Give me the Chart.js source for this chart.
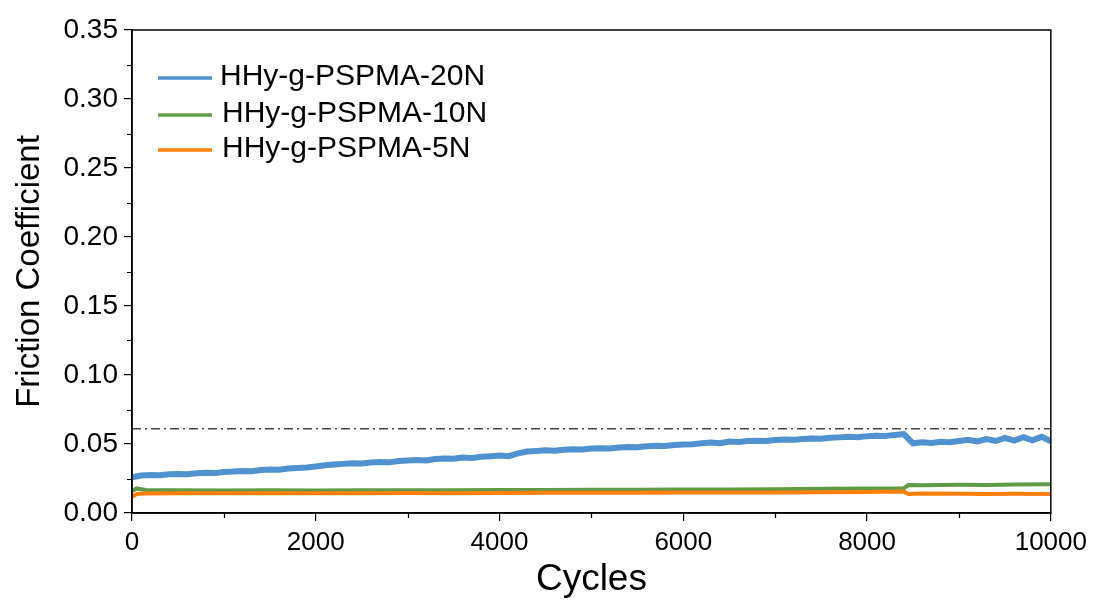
<!DOCTYPE html>
<html>
<head>
<meta charset="utf-8">
<script src="https://cdn.jsdelivr.net/npm/chart.js@4"></script>
<style>
  html, body { margin: 0; padding: 0; background: #fff; }
  #wrap { width: 1093px; height: 606px; }
</style>
</head>
<body>
<div id="wrap"><canvas id="chart" width="1093" height="606"></canvas></div>
<script>
// cycles for the 20N run (every 100 cycles)
const cycles20 = [];
for (let c = 0; c <= 10000; c += 100) cycles20.push(c);

const mu20N = [
  0.0258, 0.0272, 0.0276, 0.0274, 0.0280, 0.0283, 0.0281, 0.0288, 0.0291, 0.0289,
  0.0297, 0.0300, 0.0305, 0.0302, 0.0311, 0.0316, 0.0313, 0.0322, 0.0326, 0.0330,
  0.0337, 0.0346, 0.0352, 0.0356, 0.0361, 0.0358, 0.0366, 0.0370, 0.0367, 0.0376,
  0.0380, 0.0384, 0.0381, 0.0391, 0.0395, 0.0393, 0.0402, 0.0399, 0.0407, 0.0411,
  0.0416, 0.0412, 0.0432, 0.0446, 0.0450, 0.0454, 0.0452, 0.0459, 0.0462, 0.0460,
  0.0467, 0.0470, 0.0468, 0.0475, 0.0478, 0.0476, 0.0484, 0.0487, 0.0485, 0.0492,
  0.0496, 0.0499, 0.0505, 0.0510, 0.0506, 0.0518, 0.0514, 0.0521, 0.0524, 0.0522,
  0.0529, 0.0532, 0.0530, 0.0537, 0.0540, 0.0538, 0.0545, 0.0548, 0.0552, 0.0549,
  0.0557, 0.0560, 0.0558, 0.0566, 0.0572, 0.0505, 0.0512, 0.0508, 0.0517, 0.0513,
  0.0522, 0.0530, 0.0518, 0.0536, 0.0522, 0.0545, 0.0525, 0.0550, 0.0527, 0.0552,
  0.0520
];

// 10N and 5N runs are nearly flat, fewer points
const cyclesLow = [0, 50, 150, 500, 1000, 1500, 2000, 2500, 3000, 3500, 4000, 4500, 5000,
  5500, 6000, 6500, 7000, 7500, 8000, 8400, 8450, 8600, 9000, 9300, 9600, 10000];
const mu10N = [0.0160, 0.0178, 0.0166, 0.0164, 0.0163, 0.0164, 0.0163, 0.0164, 0.0165, 0.0164,
  0.0166, 0.0167, 0.0168, 0.0169, 0.0170, 0.0171, 0.0173, 0.0175, 0.0177, 0.0180,
  0.0203, 0.0201, 0.0204, 0.0203, 0.0206, 0.0209];
const mu5N = [0.0118, 0.0138, 0.0142, 0.0143, 0.0143, 0.0144, 0.0143, 0.0144, 0.0145, 0.0144,
  0.0145, 0.0146, 0.0146, 0.0147, 0.0148, 0.0148, 0.0149, 0.0151, 0.0152, 0.0155,
  0.0138, 0.0141, 0.0139, 0.0137, 0.0139, 0.0138];

const refLevel = 0.061;
const xMax = 10000;
const yMax = 0.35;

const seriesLabels = ['HHy-g-PSPMA-20N', 'HHy-g-PSPMA-10N', 'HHy-g-PSPMA-5N'];
const seriesColors = ['#4f92cf', '#619a45', '#ff7f0c'];

function pts(xs, ys) {
  return xs.map((x, i) => ({ x: x, y: ys[i] }));
}

const FONT = '"Liberation Sans", Arial, sans-serif';

// frame, minor ticks and the in-plot legend
const framePlugin = {
  id: 'frame',
  afterDraw(chart) {
    const ctx = chart.ctx;
    const a = chart.chartArea;
    const xs = chart.scales.x, ys = chart.scales.y;
    ctx.save();
    ctx.strokeStyle = '#000';
    ctx.lineWidth = 1.5;
    ctx.strokeRect(a.left, a.top, a.right - a.left, a.bottom - a.top);
    ctx.lineWidth = 1.2;
    ctx.beginPath();
    for (let v = 1000; v < xMax; v += 2000) {
      const px = Math.round(xs.getPixelForValue(v)) + 0.5;
      ctx.moveTo(px, a.bottom);
      ctx.lineTo(px, a.bottom + 5);
    }
    for (let v = 0.025; v < yMax; v += 0.05) {
      const py = Math.round(ys.getPixelForValue(v)) + 0.5;
      ctx.moveTo(a.left, py);
      ctx.lineTo(a.left - 5, py);
    }
    ctx.stroke();

    // legend
    ctx.font = '30px ' + FONT;
    ctx.textBaseline = 'middle';
    const rows = [77, 114, 149];
    seriesLabels.forEach((lab, i) => {
      ctx.strokeStyle = seriesColors[i];
      ctx.lineWidth = 3.5;
      ctx.beginPath();
      ctx.moveTo(158, rows[i] + 1);
      ctx.lineTo(212, rows[i] + 1);
      ctx.stroke();
      ctx.fillStyle = '#000';
      ctx.fillText(lab, i === 0 ? 220 : 222, rows[i]);
    });
    ctx.restore();
  }
};

new Chart(document.getElementById('chart'), {
  type: 'line',
  data: {
    datasets: [
      {
        label: seriesLabels[0],
        data: pts(cycles20, mu20N),
        borderColor: seriesColors[0],
        borderWidth: 6,
        pointRadius: 0,
        tension: 0,
        order: 0
      },
      {
        label: seriesLabels[1],
        data: pts(cyclesLow, mu10N),
        borderColor: seriesColors[1],
        borderWidth: 4,
        pointRadius: 0,
        tension: 0,
        order: 2
      },
      {
        label: seriesLabels[2],
        data: pts(cyclesLow, mu5N),
        borderColor: seriesColors[2],
        borderWidth: 4,
        pointRadius: 0,
        tension: 0,
        order: 1
      },
      {
        label: 'ref',
        data: [{ x: 0, y: refLevel }, { x: xMax, y: refLevel }],
        borderColor: '#444',
        borderWidth: 1.5,
        borderDash: [9, 4, 2, 4],
        pointRadius: 0,
        order: 3
      }
    ]
  },
  options: {
    responsive: false,
    animation: false,
    layout: { padding: { left: 0, right: 40, top: 30, bottom: 0 } },
    plugins: {
      legend: { display: false },
      tooltip: { enabled: false }
    },
    scales: {
      x: {
        type: 'linear',
        min: 0,
        max: xMax,
        afterFit(s) { s.height = 93; },
        border: { display: true, color: '#000', width: 1.5 },
        grid: { drawOnChartArea: false, tickLength: 8, color: '#000', lineWidth: 1.2 },
        ticks: {
          stepSize: 2000,
          color: '#000',
          padding: 6,
          maxRotation: 0,
          font: { family: FONT, size: 26 },
          callback: v => String(v)
        },
        title: {
          display: true,
          text: 'Cycles',
          color: '#000',
          font: { family: FONT, size: 37 },
          padding: { top: 0, bottom: 4 }
        }
      },
      y: {
        min: 0,
        max: yMax,
        afterFit(s) { s.width = 132; },
        border: { display: true, color: '#000', width: 1.5 },
        grid: { drawOnChartArea: false, tickLength: 8, color: '#000', lineWidth: 1.2 },
        ticks: {
          stepSize: 0.05,
          color: '#000',
          padding: 6,
          font: { family: FONT, size: 28 },
          callback: v => v.toFixed(2)
        },
        title: {
          display: true,
          text: 'Friction Coefficient',
          color: '#000',
          font: { family: FONT, size: 33 },
          padding: { top: 10, bottom: 0 }
        }
      }
    }
  },
  plugins: [framePlugin]
});
</script>
</body>
</html>
